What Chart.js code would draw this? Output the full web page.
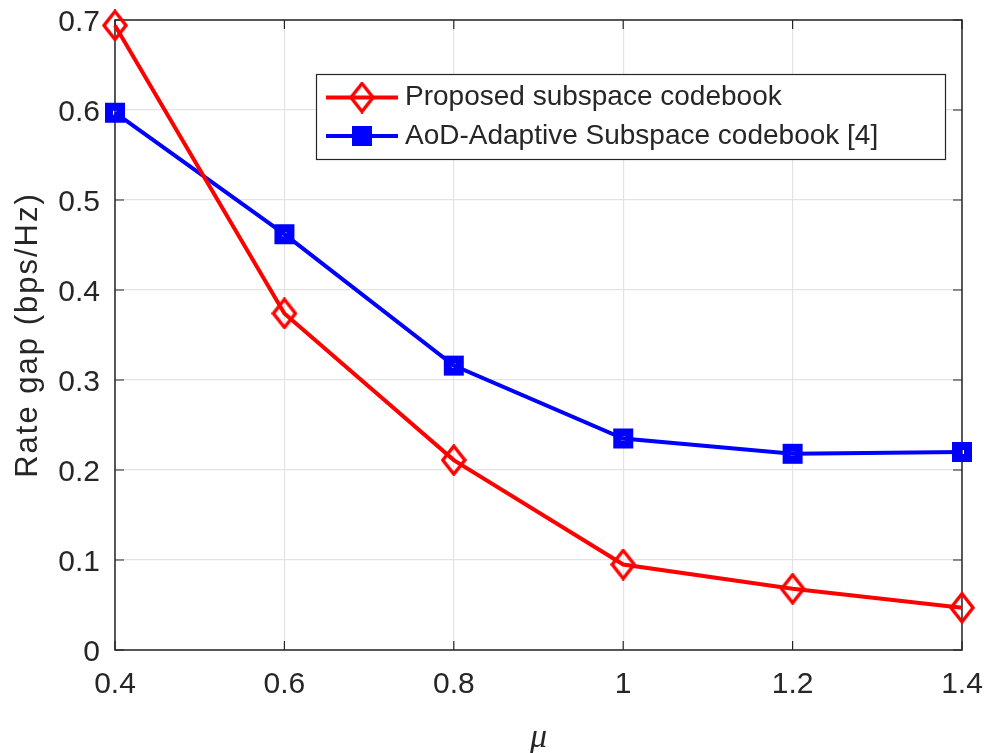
<!DOCTYPE html>
<html>
<head>
<meta charset="utf-8">
<script src="https://cdn.jsdelivr.net/npm/chart.js@4.4.1/dist/chart.umd.min.js"></script>
<style>
  html, body { margin: 0; padding: 0; background: #ffffff; }
  #wrap { width: 986px; height: 753px; }
</style>
</head>
<body>
<div id="wrap"><canvas id="c" width="986" height="753"></canvas></div>
<script>
// ---- data ----
const muValues = [0.4, 0.6, 0.8, 1.0, 1.2, 1.4];
const proposedGap = [0.694, 0.374, 0.211, 0.095, 0.068, 0.047];
const aodAdaptiveGap = [0.597, 0.462, 0.316, 0.235, 0.218, 0.220];
const xTickValues = [0.4, 0.6, 0.8, 1.0, 1.2, 1.4];
const xTickLabels = ['0.4', '0.6', '0.8', '1', '1.2', '1.4'];
const yTickValues = [0, 0.1, 0.2, 0.3, 0.4, 0.5, 0.6, 0.7];
const yTickLabels = ['0', '0.1', '0.2', '0.3', '0.4', '0.5', '0.6', '0.7'];
const seriesNames = ['Proposed subspace codebook', 'AoD-Adaptive Subspace codebook [4]'];
const xTitle = 'μ';
const yTitle = 'Rate gap (bps/Hz)';

const RED = '#ff0000', BLUE = '#0000ff', AXIS = '#262626';
const FONT = "'Liberation Sans', Arial, Helvetica, sans-serif";

function diamondMarker(color) {
  const c = document.createElement('canvas');
  c.width = 26; c.height = 32;
  const g = c.getContext('2d');
  g.strokeStyle = color; g.lineWidth = 3.4; g.lineJoin = 'miter';
  g.beginPath();
  g.moveTo(13, 2); g.lineTo(24, 16); g.lineTo(13, 30); g.lineTo(2, 16); g.closePath();
  g.stroke();
  return c;
}
function squareMarker(color, filled) {
  const c = document.createElement('canvas');
  c.width = 22; c.height = 22;
  const g = c.getContext('2d');
  g.fillStyle = color;
  g.fillRect(1, 1, 20, 20);
  if (!filled) { g.clearRect(9, 9, 4, 4); }
  return c;
}
const redDiamond = diamondMarker(RED);
const blueSquare = squareMarker(BLUE, false);
const blueSquareLegend = squareMarker(BLUE, true);

const frameAndLegend = {
  id: 'frameAndLegend',
  beforeDatasetsDraw(chart) {
    const ctx = chart.ctx, a = chart.chartArea;
    const xs = chart.scales.x, ys = chart.scales.y;
    ctx.save();
    ctx.strokeStyle = AXIS; ctx.lineWidth = 1.5;
    ctx.strokeRect(a.left, a.top, a.right - a.left, a.bottom - a.top);
    ctx.lineWidth = 1.2;
    const tl = 9;
    ctx.beginPath();
    xTickValues.forEach(v => {
      const px = xs.getPixelForValue(v);
      ctx.moveTo(px, a.bottom); ctx.lineTo(px, a.bottom - tl);
      ctx.moveTo(px, a.top); ctx.lineTo(px, a.top + tl);
    });
    yTickValues.forEach(v => {
      const py = ys.getPixelForValue(v);
      ctx.moveTo(a.left, py); ctx.lineTo(a.left + tl, py);
      ctx.moveTo(a.right, py); ctx.lineTo(a.right - tl, py);
    });
    ctx.stroke();
    ctx.restore();
  },
  afterDraw(chart) {
    const ctx = chart.ctx, a = chart.chartArea;
    ctx.save();
    // y-axis title
    ctx.save();
    ctx.translate(37, (a.top + a.bottom) / 2);
    ctx.rotate(-Math.PI / 2);
    ctx.font = '31px ' + FONT;
    ctx.fillStyle = AXIS;
    ctx.textAlign = 'center'; ctx.textBaseline = 'alphabetic';
    if ('letterSpacing' in ctx) ctx.letterSpacing = '2px';
    ctx.fillText(yTitle, 0, 0);
    ctx.restore();
    // legend
    const bx = 316, by = 74, bw = 629, bh = 85;
    ctx.fillStyle = '#ffffff';
    ctx.fillRect(bx, by, bw, bh);
    ctx.strokeStyle = AXIS; ctx.lineWidth = 1.2;
    ctx.strokeRect(bx + 0.5, by + 0.5, bw, bh);
    const rows = [
      { y: 97.5, color: RED, marker: redDiamond, name: seriesNames[0] },
      { y: 136, color: BLUE, marker: blueSquareLegend, name: seriesNames[1] }
    ];
    rows.forEach(r => {
      ctx.strokeStyle = r.color; ctx.lineWidth = 4;
      ctx.beginPath(); ctx.moveTo(326, r.y); ctx.lineTo(398, r.y); ctx.stroke();
      ctx.drawImage(r.marker, 362 - r.marker.width / 2, r.y - r.marker.height / 2);
      ctx.fillStyle = AXIS;
      ctx.font = '28px ' + FONT;
      ctx.textAlign = 'left'; ctx.textBaseline = 'middle';
      ctx.fillText(r.name, 405, r.y);
    });
    ctx.restore();
  }
};

const toPts = (xs, ys) => xs.map((x, i) => ({ x: x, y: ys[i] }));

new Chart(document.getElementById('c'), {
  type: 'line',
  data: {
    datasets: [
      {
        label: seriesNames[0],
        data: toPts(muValues, proposedGap),
        borderColor: RED, backgroundColor: 'rgba(0,0,0,0)',
        borderWidth: 4, pointStyle: redDiamond, pointRadius: 12,
        tension: 0, clip: false
      },
      {
        label: seriesNames[1],
        data: toPts(muValues, aodAdaptiveGap),
        borderColor: BLUE, backgroundColor: 'rgba(0,0,0,0)',
        borderWidth: 4, pointStyle: blueSquare, pointRadius: 11,
        tension: 0, clip: false
      }
    ]
  },
  options: {
    responsive: false,
    animation: false,
    events: [],
    layout: { padding: { left: 0, right: 24, top: 20, bottom: 0 } },
    plugins: { legend: { display: false }, tooltip: { enabled: false } },
    scales: {
      x: {
        type: 'linear', min: 0.4, max: 1.4,
        afterBuildTicks: s => { s.ticks = xTickValues.map(v => ({ value: v })); },
        afterFit: s => { s.height = 103; s.paddingLeft = 0; s.paddingRight = 0; },
        grid: { color: '#e3e3e3', lineWidth: 1.2, drawTicks: false },
        border: { display: false },
        ticks: {
          padding: 17, color: AXIS, maxRotation: 0, autoSkip: false,
          font: { family: FONT, size: 30 },
          callback: (v) => { const i = xTickValues.findIndex(t => Math.abs(t - v) < 1e-9); return i >= 0 ? xTickLabels[i] : ''; }
        },
        title: {
          display: true, text: xTitle, color: AXIS,
          font: { family: "'Liberation Serif', 'Times New Roman', serif", size: 34, style: 'italic', lineHeight: 1 },
          padding: { top: 0, bottom: -2 }
        }
      },
      y: {
        type: 'linear', min: 0, max: 0.7,
        afterBuildTicks: s => { s.ticks = yTickValues.map(v => ({ value: v })); },
        afterFit: s => { s.width = 115; s.paddingTop = 0; s.paddingBottom = 0; },
        grid: { color: '#e3e3e3', lineWidth: 1.2, drawTicks: false },
        border: { display: false },
        ticks: {
          padding: 15, color: AXIS, labelOffset: 3,
          font: { family: FONT, size: 30 },
          callback: (v) => { const i = yTickValues.findIndex(t => Math.abs(t - v) < 1e-9); return i >= 0 ? yTickLabels[i] : ''; }
        },
        title: { display: false }
      }
    }
  },
  plugins: [frameAndLegend]
});
</script>
</body>
</html>
